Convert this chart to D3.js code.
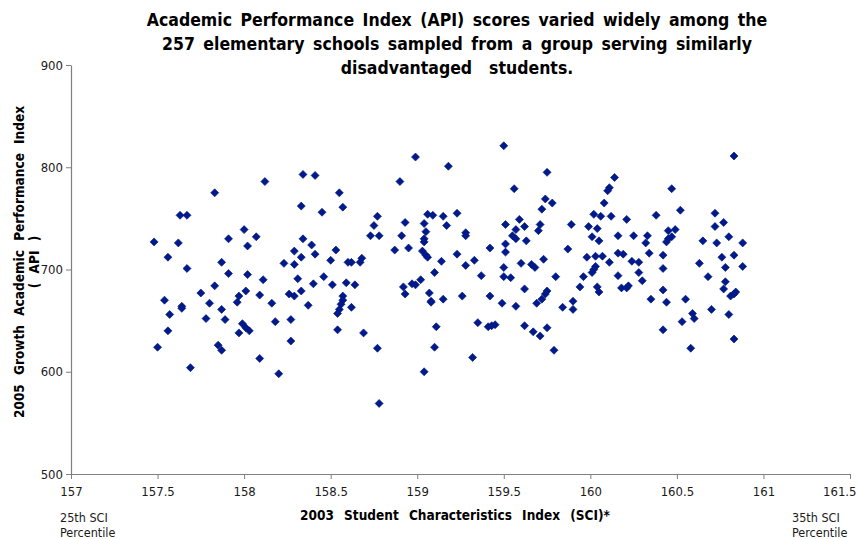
<!DOCTYPE html>
<html>
<head>
<meta charset="utf-8">
<script src="https://cdn.jsdelivr.net/npm/d3@7"></script>
<style>
  body { margin: 0; background: #fff; }
  svg { display: block; }
  text { white-space: pre; }
</style>
</head>
<body>
<svg id="chart" width="858" height="539"></svg>
<script>
// 2003 SCI (x) for each school
var sci = [
158.34,158.12,157.83,158.33,157.63,157.67,158.00,158.07,157.91,157.48,
157.62,158.02,158.34,158.29,158.33,157.56,157.67,157.87,158.23,158.29,
157.91,158.02,158.11,158.31,157.83,157.75,158.01,157.97,158.09,158.26,
158.29,158.33,157.54,157.80,157.96,158.16,158.37,157.64,157.64,157.87,
157.57,157.78,157.89,158.18,158.27,157.99,158.01,158.03,157.97,157.56,
158.27,157.50,157.85,157.87,158.09,157.69,158.20,
158.41,158.99,159.18,158.90,158.55,158.57,158.45,158.77,158.75,158.73,
158.78,159.06,159.09,159.15,159.23,159.17,158.93,159.04,158.91,159.05,
159.04,159.04,159.28,159.28,158.39,158.53,158.41,158.50,158.60,158.62,
158.67,158.68,158.87,158.95,159.03,159.05,159.06,159.14,159.23,159.28,
159.10,158.46,158.40,158.51,158.59,158.64,158.92,158.97,158.99,159.02,
158.93,159.07,159.08,159.08,159.15,159.26,158.57,158.57,158.56,158.55,
158.54,158.62,158.54,158.69,158.77,159.11,159.10,159.04,158.78,
159.50,159.75,159.56,160.14,160.11,160.10,160.08,159.74,159.78,159.72,
159.59,159.51,159.62,159.71,159.70,159.57,159.55,159.57,159.63,159.51,
159.51,159.42,159.33,159.37,159.60,159.66,159.68,159.73,159.50,159.50,
159.54,159.80,159.62,159.42,159.49,159.57,159.69,159.72,159.74,159.75,
159.84,159.90,159.90,159.94,159.89,159.87,159.99,160.02,160.06,160.12,
160.21,160.04,160.01,160.05,160.16,159.98,160.03,160.07,160.11,160.16,
160.19,160.03,160.02,160.01,159.96,160.16,160.04,160.05,160.18,160.21,
159.35,159.41,159.43,159.45,159.62,159.67,159.71,159.75,159.79,159.32,
160.22,160.83,160.47,160.52,160.38,160.72,160.77,160.72,160.25,160.33,
160.32,160.45,160.49,160.47,160.45,160.44,160.65,160.73,160.80,160.88,
160.34,160.42,160.24,160.28,160.28,160.30,160.42,160.63,160.76,160.83,
160.78,160.88,160.68,160.78,160.77,160.81,160.83,160.84,160.42,160.35,
160.44,160.55,160.70,160.59,160.60,160.53,160.80,160.42,160.83,160.58
];
// 2005 Growth API (y) for each school, same order
var api = [
793,786,775,762,753,753,739,732,730,727,
726,723,730,718,712,712,701,707,706,705,
696,695,690,691,684,677,679,674,675,676,
674,679,670,667,668,667,665,664,662,661,
656,652,651,649,651,647,643,640,638,640,
630,624,626,621,613,604,598,
792,810,801,786,775,761,756,752,743,733,
733,754,753,752,755,743,746,745,733,737,
730,727,736,733,724,719,715,709,707,707,
707,711,719,721,718,714,712,708,715,704,
697,693,686,685,687,685,683,686,685,690,
676,677,668,669,671,674,674,670,666,661,
657,663,641,638,623,644,624,600,569,
821,795,779,790,780,777,765,769,765,759,
749,744,742,744,738,739,733,730,728,725,
717,721,709,694,706,705,702,710,702,693,
692,693,681,674,667,664,667,671,676,679,
663,669,661,683,744,720,742,754,752,752,
749,740,732,728,733,712,713,713,707,716,
715,703,700,697,693,694,683,678,682,682,
648,644,645,646,645,639,635,643,621,614,
684,811,779,758,753,755,746,742,733,733,
726,738,739,732,730,727,728,726,732,726,
716,714,708,707,697,689,701,706,712,714,
702,703,693,688,681,674,676,678,680,671,
668,671,661,657,652,649,656,641,632,623
];
var xTicks = [157, 157.5, 158, 158.5, 159, 159.5, 160, 160.5, 161, 161.5];
var yTicks = [500, 600, 700, 800, 900];
var titleLines = [
  "Academic Performance Index (API) scores varied widely among the",
  "257 elementary schools sampled from a group serving similarly",
  "disadvantaged  students."
];

var svg = d3.select("#chart");
var margin = {left: 71, right: 8, top: 65, bottom: 65};
var W = 858, H = 539;

var x = d3.scaleLinear().domain([157, 161.5]).range([margin.left, W - margin.right]);
var y = d3.scaleLinear().domain([500, 900]).range([H - margin.bottom, margin.top]);

var tickFont = "'DejaVu Sans Condensed', 'DejaVu Sans', sans-serif";
var boldFont = "'DejaVu Sans Condensed', 'DejaVu Sans', sans-serif";

// axes
var xAxis = svg.append("g")
    .attr("transform", "translate(0," + y(500) + ")")
    .call(d3.axisBottom(x).tickValues(xTicks).tickFormat(d3.format("")).tickSize(5).tickSizeOuter(0));
var yAxis = svg.append("g")
    .attr("transform", "translate(" + x(157) + ",0)")
    .call(d3.axisLeft(y).tickValues(yTicks).tickSize(5).tickSizeOuter(0));

[xAxis, yAxis].forEach(function (g) {
    g.select(".domain").attr("stroke", "#7f7f7f").attr("stroke-width", 1.2);
    g.selectAll(".tick line").attr("stroke", "#7f7f7f");
    g.selectAll(".tick text")
        .style("font-family", tickFont)
        .style("font-size", "13px")
        .attr("fill", "#1a1a1a");
});
xAxis.selectAll(".tick text").attr("dy", "1.05em");
// keep the last label inside the page
xAxis.selectAll(".tick text").filter(function (d) { return d === 161.5; })
    .attr("text-anchor", "end").attr("dx", 6);
yAxis.selectAll(".tick text").attr("x", -8);

// points
var pts = sci.map(function (d, i) { return {x: d, y: api[i]}; });
svg.append("g").selectAll("path")
    .data(pts)
    .enter().append("path")
    .attr("d", d3.symbol().type(d3.symbolSquare).size(32))
    .attr("transform", function (d) {
        return "translate(" + x(d.x) + "," + y(d.y) + ") rotate(45)";
    })
    .attr("fill", "#001a8c")
    .attr("stroke", "#00157a")
    .attr("stroke-width", 0.6);

// title
svg.append("g").selectAll("text")
    .data(titleLines)
    .enter().append("text")
    .attr("x", 457)
    .attr("y", function (d, i) { return 26 + i * 24; })
    .attr("text-anchor", "middle")
    .style("font-family", boldFont)
    .style("font-weight", "bold")
    .style("font-size", "17.5px")
    .style("word-spacing", "3px")
    .text(function (d) { return d; });

// x axis title
svg.append("text")
    .attr("x", 455).attr("y", 520)
    .attr("text-anchor", "middle")
    .style("font-family", boldFont)
    .style("font-weight", "bold")
    .style("font-size", "13.5px")
    .style("word-spacing", "6px")
    .text("2003 Student Characteristics Index (SCI)*");

// corner notes
var notes = [
    {x: 60, y: 522, t: "25th SCI"}, {x: 60, y: 537, t: "Percentile"},
    {x: 792, y: 522, t: "35th SCI"}, {x: 792, y: 537, t: "Percentile"}
];
svg.append("g").selectAll("text")
    .data(notes)
    .enter().append("text")
    .attr("x", function (d) { return d.x; })
    .attr("y", function (d) { return d.y; })
    .style("font-family", tickFont).style("font-size", "12.5px").attr("fill", "#1a1a1a")
    .text(function (d) { return d.t; });

// y axis title (two lines)
var yt = svg.append("text")
    .attr("transform", "translate(24,262) rotate(-90)")
    .attr("text-anchor", "middle")
    .style("font-family", boldFont)
    .style("font-weight", "bold")
    .style("font-size", "13.5px")
    .style("word-spacing", "5px");
yt.append("tspan").attr("x", 0).attr("dy", 0).text("2005 Growth Academic Performance Index");
yt.append("tspan").attr("x", 0).attr("dy", 15).text("( API )");
</script>
</body>
</html>
